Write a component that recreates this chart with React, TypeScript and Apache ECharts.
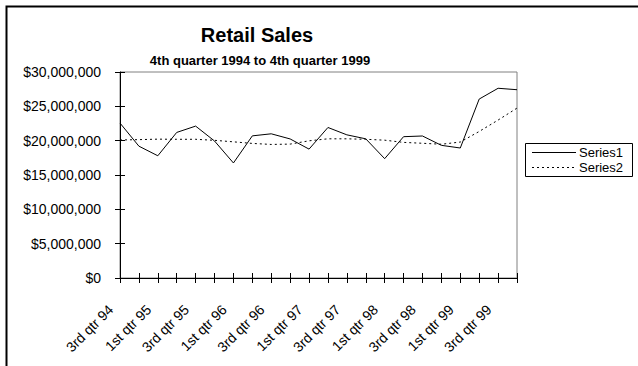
import React, { useEffect, useRef } from "react";
import * as echarts from "echarts";

const categories = [
  "3rd qtr 94", "4th qtr 94",
  "1st qtr 95", "2nd qtr 95", "3rd qtr 95", "4th qtr 95",
  "1st qtr 96", "2nd qtr 96", "3rd qtr 96", "4th qtr 96",
  "1st qtr 97", "2nd qtr 97", "3rd qtr 97", "4th qtr 97",
  "1st qtr 98", "2nd qtr 98", "3rd qtr 98", "4th qtr 98",
  "1st qtr 99", "2nd qtr 99", "3rd qtr 99", "4th qtr 99",
];

const seriesNames = ["Series1", "Series2"];

const series1 = [
  22560000, 19200000, 17800000, 21200000, 22120000, 19950000,
  16750000, 20700000, 21000000, 20250000, 18770000, 21920000,
  20850000, 20270000, 17380000, 20580000, 20680000, 19320000,
  18930000, 26060000, 27630000, 27420000,
];

const series2 = [
  20100000, 20150000, 20220000, 20200000, 20200000, 20050000,
  19830000, 19600000, 19450000, 19500000, 19980000, 20270000,
  20270000, 20200000, 20070000, 19750000, 19620000, 19480000,
  19800000, 21340000, 23000000, 24740000,
];

const yMin = 0;
const yMax = 30000000;
const yStep = 5000000;

const FONT = "'Liberation Sans', Arial, sans-serif";
const DOT: number[] = [2, 3];

function fmtMoney(v: number): string {
  return "$" + Math.round(v).toString().replace(/\B(?=(\d{3})+(?!\d))/g, ",");
}

export default function App() {
  const ref = useRef<HTMLDivElement>(null);
  useEffect(() => {
    if (!ref.current) return;
    const chart = echarts.init(ref.current, undefined, { renderer: "svg" });
    const yBase = {
      type: "value" as const,
      min: yMin,
      max: yMax,
      interval: yStep,
      position: "left" as const,
      splitLine: { show: false },
    };
    const xBase = {
      type: "category" as const,
      data: categories,
      boundaryGap: false,
      position: "bottom" as const,
      splitLine: { show: false },
    };
    const legX = 525;
    const legY = 143;
    const rowH = 15;
    chart.setOption({
      animation: false,
      backgroundColor: "#ffffff",
      textStyle: { fontFamily: FONT },
      title: [
        {
          text: "Retail Sales",
          left: 252,
          top: 20,
          textAlign: "center",
          textStyle: { fontFamily: FONT, fontSize: 20, fontWeight: "bold", color: "#000" },
        },
        {
          text: "4th quarter 1994 to 4th quarter 1999",
          left: 255,
          top: 49,
          textAlign: "center",
          textStyle: { fontFamily: FONT, fontSize: 13, fontWeight: "bold", color: "#000" },
        },
      ],
      grid: {
        left: 120,
        right: 121,
        top: 72,
        bottom: 88,
        show: true,
        borderColor: "#808080",
        borderWidth: 1,
        backgroundColor: "transparent",
      },
      xAxis: [
        {
          ...xBase,
          axisLine: { show: true, lineStyle: { color: "#000", width: 1 } },
          axisTick: { show: true, interval: 0, length: 5, inside: false, lineStyle: { color: "#000" } },
          axisLabel: {
            interval: 1,
            rotate: 45,
            margin: 20,
            padding: [0, 13, 0, 0],
            fontFamily: FONT,
            fontSize: 14,
            color: "#000",
          },
        },
        {
          ...xBase,
          axisLine: { show: false },
          axisTick: { show: true, interval: 0, length: 5, inside: true, lineStyle: { color: "#000" } },
          axisLabel: { show: false },
        },
      ],
      yAxis: [
        {
          ...yBase,
          axisLine: { show: true, lineStyle: { color: "#000", width: 1 } },
          axisTick: { show: true, length: 5, inside: false, lineStyle: { color: "#000" } },
          axisLabel: {
            margin: 19,
            fontFamily: FONT,
            fontSize: 14,
            color: "#000",
            formatter: (v: number) => fmtMoney(v),
          },
        },
        {
          ...yBase,
          axisLine: { show: false },
          axisTick: { show: true, length: 5, inside: true, lineStyle: { color: "#000" } },
          axisLabel: { show: false },
        },
      ],
      series: [
        {
          name: seriesNames[0],
          type: "line",
          data: series1,
          symbol: "none",
          color: "#000",
          lineStyle: { color: "#000", width: 1, type: "solid" },
        },
        {
          name: seriesNames[1],
          type: "line",
          data: series2,
          symbol: "none",
          color: "#000",
          lineStyle: { color: "#000", width: 1, type: DOT },
        },
      ],
      graphic: [
        {
          type: "rect",
          left: 4,
          top: 4,
          shape: { x: 0, y: 0, width: 660, height: 390 },
          style: { fill: "none", stroke: "#000", lineWidth: 2 },
          silent: true,
        },
        {
          type: "group",
          x: legX,
          y: legY,
          silent: true,
          children: [
            {
              type: "rect",
              shape: { x: 0.5, y: 0.5, width: 107, height: 33 },
              style: { fill: "#fff", stroke: "#000", lineWidth: 1 },
            },
            {
              type: "line",
              shape: { x1: 7, y1: 9.5, x2: 51, y2: 9.5 },
              style: { stroke: "#000", lineWidth: 1 },
            },
            {
              type: "line",
              shape: { x1: 7, y1: 9.5 + rowH, x2: 51, y2: 9.5 + rowH },
              style: { stroke: "#000", lineWidth: 1, lineDash: DOT },
            },
            {
              type: "text",
              x: 54,
              y: 9.5,
              style: {
                text: seriesNames[0],
                fontFamily: FONT,
                fontSize: 13,
                fill: "#000",
                verticalAlign: "middle",
                align: "left",
              },
            },
            {
              type: "text",
              x: 54,
              y: 9.5 + rowH,
              style: {
                text: seriesNames[1],
                fontFamily: FONT,
                fontSize: 13,
                fill: "#000",
                verticalAlign: "middle",
                align: "left",
              },
            },
          ],
        },
      ],
    });
    return () => chart.dispose();
  }, []);
  return (
    <div
      ref={ref}
      style={{ position: "fixed", left: 0, top: 0, width: 638, height: 366 }}
    />
  );
}
